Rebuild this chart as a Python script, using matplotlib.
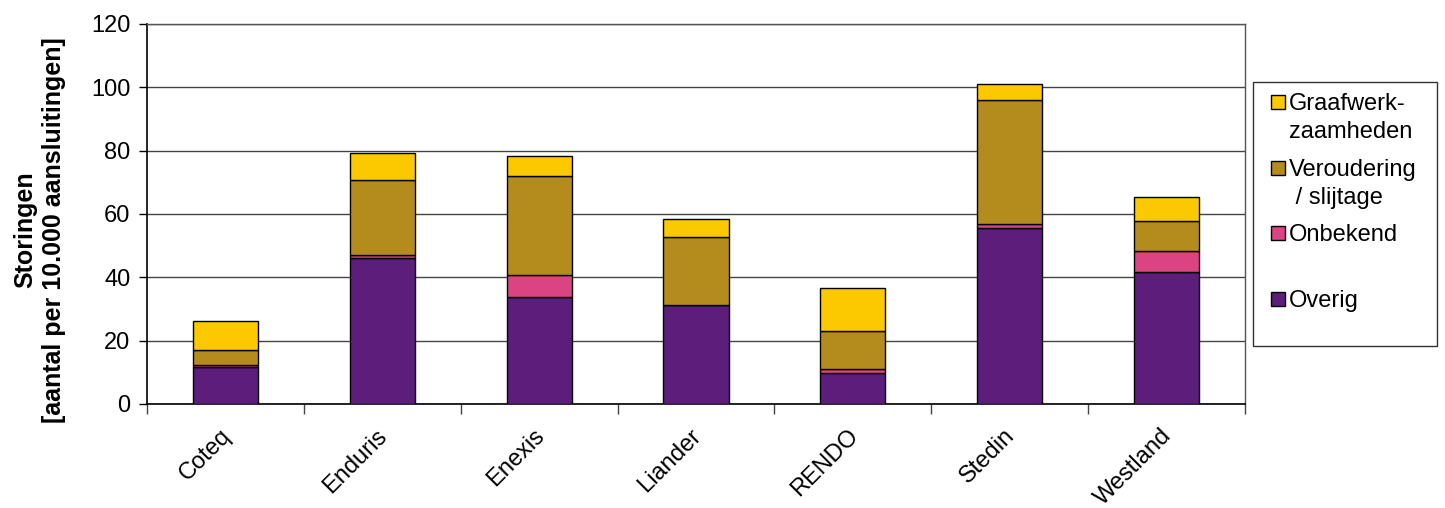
import numpy as np
import matplotlib
matplotlib.use('Agg')
from matplotlib import pyplot as plt
from matplotlib.patches import Rectangle
from matplotlib.transforms import ScaledTranslation

plt.rcParams['font.family'] = ['Liberation Sans', 'DejaVu Sans']

companies = ['Coteq', 'Enduris', 'Enexis', 'Liander', 'RENDO', 'Stedin', 'Westland']
overig = [11.8, 46.0, 33.9, 31.2, 9.8, 55.6, 41.8]
onbekend = [0.6, 1.1, 6.8, 0.2, 1.1, 1.2, 6.5]
veroudering = [4.6, 23.6, 31.3, 21.4, 12.3, 39.2, 9.5]
graafwerk = [9.2, 8.7, 6.3, 5.6, 13.4, 4.9, 7.7]

series = [
    ('Overig', overig, '#5C1E7A'),
    ('Onbekend', onbekend, '#DB4482'),
    ('Veroudering\n / slijtage', veroudering, '#B48C1E'),
    ('Graafwerk-\nzaamheden', graafwerk, '#FCC800'),
]

FS = 17
W, H = 1445, 508
fig = plt.figure(figsize=(W / 100, H / 100), dpi=100)
ax = fig.add_axes([147 / W, 1 - 404 / H, (1245 - 147) / W, (404 - 24) / H])

x = np.arange(len(companies))
bottom = np.zeros(len(companies))
for name, vals, col in series:
    ax.bar(x, vals, width=0.415, bottom=bottom, color=col, edgecolor='black',
           linewidth=1.0, zorder=3)
    bottom += np.array(vals)

ax.set_xlim(-0.5, len(companies) - 0.5)
ax.set_ylim(0, 120)
ax.set_yticks(np.arange(0, 121, 20))
ax.yaxis.grid(True, color='#444444', linewidth=1.0, zorder=0)
ax.tick_params(axis='y', direction='out', length=6, width=1, labelsize=FS, pad=6)

ax.set_xticks(x)
ax.set_xticklabels(companies, rotation=45, ha='right', rotation_mode='anchor', fontsize=FS)
ax.tick_params(axis='x', which='major', length=0, pad=15)
ax.set_xticks(np.arange(-0.5, len(companies), 1.0), minor=True)
ax.tick_params(axis='x', which='minor', direction='out', length=7, width=1, color='#444444')
shift = ScaledTranslation(-6 / 100, 0, fig.dpi_scale_trans)
for lab in ax.get_xticklabels():
    lab.set_transform(lab.get_transform() + shift)

for s in ['left', 'bottom']:
    ax.spines[s].set_color('black')
    ax.spines[s].set_linewidth(1.2)
for s in ['right', 'top']:
    ax.spines[s].set_color('#555555')
    ax.spines[s].set_linewidth(1.0)

ax.set_ylabel('Storingen\n[aantal per 10.000 aansluitingen]', fontsize=18,
              fontweight='bold', linespacing=1.25)
ax.yaxis.set_label_coords(-0.074, 0.458)

# legend drawn like the Excel original (marker next to the first line)
def fx(px):
    return px / W

def fy(py):
    return 1 - py / H

fig.patches.append(Rectangle((fx(1253), fy(346)), fx(1437) - fx(1253), fy(82) - fy(346),
                             transform=fig.transFigure, facecolor='white',
                             edgecolor='#333333', linewidth=1.0))
legend_rows = [(series[3], 102), (series[2], 168), (series[1], 233), (series[0], 299)]
for (name, vals, col), py in legend_rows:
    fig.patches.append(Rectangle((fx(1271), fy(py + 7)), fx(1285) - fx(1271), fy(py - 7) - fy(py + 7),
                                 transform=fig.transFigure, facecolor=col,
                                 edgecolor='black', linewidth=1.0))
    for i, line in enumerate(name.split('\n')):
        fig.text(fx(1289), fy(py + 8 + i * 28), line, fontsize=FS, va='baseline', ha='left')

fig.savefig('out.png', dpi=100)
